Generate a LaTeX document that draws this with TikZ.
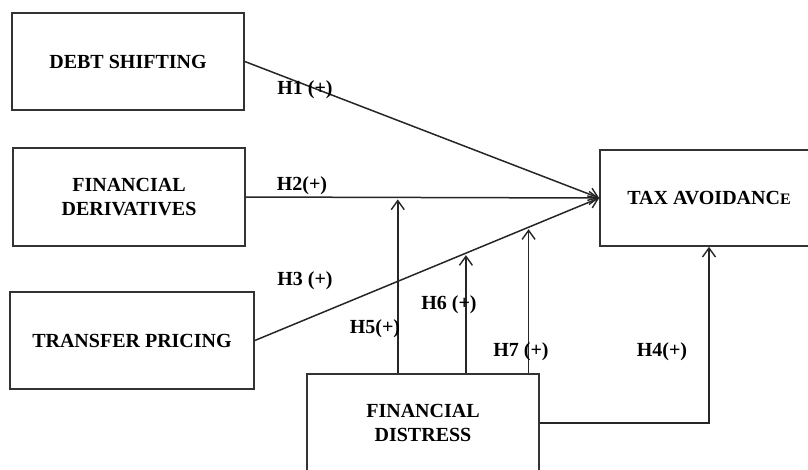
\documentclass[tikz,border=0pt]{standalone}
\usepackage{fontspec}
\setmainfont{Liberation Serif}
\usetikzlibrary{arrows.meta,positioning,calc}

\begin{document}
\begin{tikzpicture}[x=1pt,y=-1pt,
  every node/.style={font=\fontsize{20}{24}\selectfont\bfseries},
  varbox/.style={draw,line width=1.6pt,draw=black!80,rectangle,align=center,inner sep=0pt},
  hlabel/.style={inner sep=0pt},
  link/.style={line width=1.5pt,draw=black!85},
  arr/.style={link,-{Straight Barb[length=9pt,width=13pt,line width=1.4pt]}}]
  \useasboundingbox (0,0) rectangle (808,469);

  \node[varbox,minimum width=232,minimum height=97] (debt) at (128,61.5) {DEBT SHIFTING};
  \node[varbox,minimum width=232,minimum height=98] (deriv) at (129,197) {FINANCIAL\\DERIVATIVES};
  \node[varbox,minimum width=244,minimum height=97] (transfer) at (132,340.5) {TRANSFER PRICING};
  \node[varbox,minimum width=218,minimum height=96] (tax) at (709,198) {TAX AVOIDANC{\fontsize{16}{20}\selectfont E}};
  \node[varbox,minimum width=232,minimum height=98] (distress) at (423,423) {FINANCIAL\\DISTRESS};

  \draw[arr] (debt.east) -- (tax.west);
  \draw[arr] (deriv.east) -- (tax.west);
  \draw[arr] (transfer.east) -- (tax.west);

  \coordinate (m5) at ($(deriv.east)!0.43!(tax.west)$);
  \coordinate (m6) at ($(transfer.east)!0.613!(tax.west)$);
  \coordinate (m7) at ($(transfer.east)!0.795!(tax.west)$);
  \draw[arr] (distress.north -| m5) -- ([yshift=-2pt]m5);
  \draw[arr] (distress.north -| m6) -- ([yshift=-2pt]m6);
  \draw[arr] (distress.north -| m7) -- ([yshift=-2pt]m7);
  \draw[arr] (distress.east) -| (tax.south);

  \node[hlabel] (h1) at (305,90) {H1 (+)};
  \node[hlabel] (h2) at (302,186) {H2(+)};
  \node[hlabel] (h3) at (305,281) {H3 (+)};
  \node[hlabel] (h5) at (375,329) {H5(+)};
  \node[hlabel] (h6) at (449,305) {H6 (+)};
  \node[hlabel] (h7) at (521,352) {H7 (+)};
  \node[hlabel] (h4) at (662,352) {H4(+)};
\end{tikzpicture}
\end{document}
